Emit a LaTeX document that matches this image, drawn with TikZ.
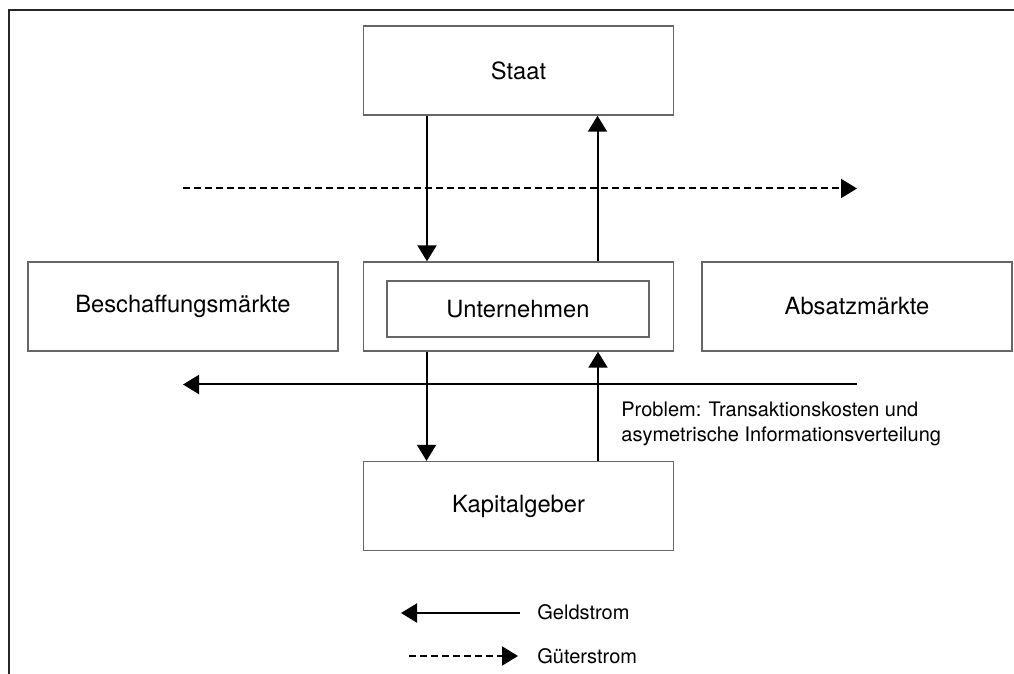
\documentclass[tikz,border=0pt]{standalone}
\usepackage{fontspec}
\setmainfont{TeX Gyre Heros}
\usetikzlibrary{positioning,arrows.meta}

\begin{document}
\begin{tikzpicture}[x=0.5pt, y=-0.5pt,
  box/.style={rectangle, draw=black!60, line width=0.7pt, minimum width=155pt, minimum height=44.5pt, inner sep=0pt, font=\fontsize{11.85}{14}\selectfont},
  inbox/.style={box, minimum width=131pt, minimum height=28pt},
  geld/.style={draw, line width=1pt, -{Triangle[length=8pt, width=9.5pt]}},
  gueter/.style={geld, dash pattern=on 3.5pt off 2pt},
  lbl/.style={inner sep=0pt, font=\fontsize{10}{12.5}\selectfont}
]
\useasboundingbox (0,0) rectangle (1014,674);
% open frame (top and left only)
\draw[black!85, line width=1pt] (8.5,674) -- (8.5,10.5) -- (1014,10.5);
% boxes
\node[box] (staat) at (518.5,70.5) {Staat};
\node[box] (unt) at (518.5,306.5) {};
\node[inbox] (untin) at (518,309) {Unternehmen};
\node[box] (besch) at (183,306.5) {Beschaffungsmärkte};
\node[box] (absatz) at (857,306.5) {Absatzmärkte};
\node[box] (kap) at (518.5,506) {Kapitalgeber};
% vertical flows
\draw[geld] ([xshift=-45.75pt]staat.south) -- ([xshift=-45.75pt]unt.north);
\draw[geld] ([xshift=39.5pt]unt.north) -- ([xshift=39.5pt]staat.south);
\draw[geld] ([xshift=-46pt]unt.south) -- ([xshift=-46pt]kap.north);
\draw[geld] ([xshift=39.75pt]kap.north) -- ([xshift=39.75pt]unt.south);
% horizontal flows
\coordinate (gu1) at (183,188.5);
\coordinate (gu2) at (857,188.5);
\coordinate (ge1) at (857,384.5);
\coordinate (ge2) at (183,384.5);
\draw[gueter] (gu1) -- (gu2);
\draw[geld] (ge1) -- (ge2);
\node[lbl, align=left, anchor=north west] (prob) at (621,402)
  {Problem: Transaktionskosten und\\asymetrische Informationsverteilung};
% legend
\coordinate (l1a) at (520,613);
\coordinate (l1b) at (401,613);
\coordinate (l2a) at (409,656);
\coordinate (l2b) at (518,656);
\draw[geld] (l1a) -- (l1b);
\draw[gueter] (l2a) -- (l2b);
\node[lbl, anchor=west] (lgeld) at (537,612) {Geldstrom};
\node[lbl, anchor=west] (lgueter) at (537,656) {Güterstrom};
\end{tikzpicture}
\end{document}
